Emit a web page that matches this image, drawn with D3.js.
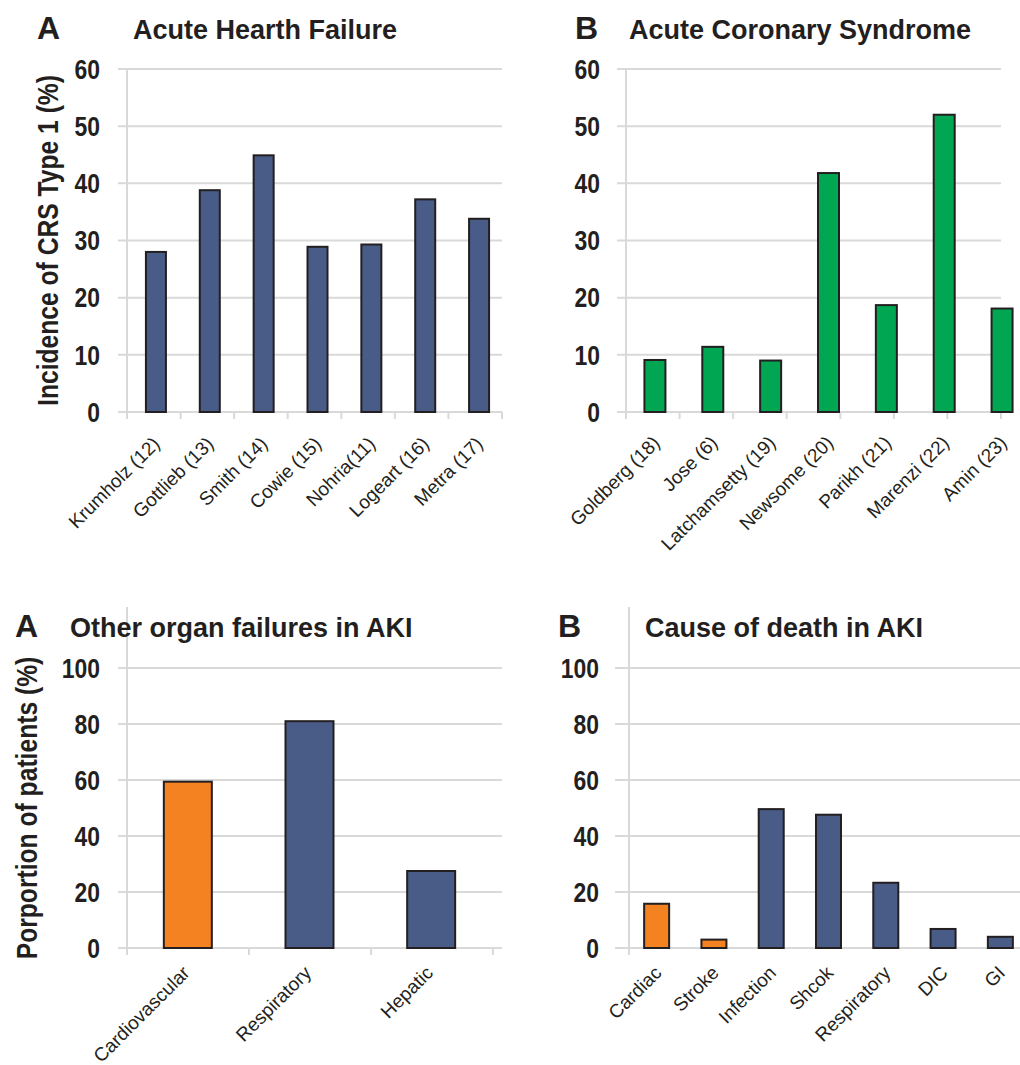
<!DOCTYPE html>
<html>
<head>
<meta charset="utf-8">
<script src="https://cdn.jsdelivr.net/npm/d3@7"></script>
<style>
  body { margin: 0; background: #fff; }
  svg { display: block; }
</style>
</head>
<body>
<main></main>
<script>
/* eslint-disable */

// ---- data ----
const ahfStudies = ['Krumholz (12)', 'Gottlieb (13)', 'Smith (14)', 'Cowie (15)', 'Nohria(11)', 'Logeart (16)', 'Metra (17)'];
const ahfValues = [28.0, 38.8, 44.9, 28.9, 29.3, 37.2, 33.8];

const acsStudies = ['Goldberg (18)', 'Jose (6)', 'Latchamsetty (19)', 'Newsome (20)', 'Parikh (21)', 'Marenzi (22)', 'Amin (23)'];
const acsValues = [9.1, 11.4, 9.0, 41.8, 18.7, 52.0, 18.1];

const organNames = ['Cardiovascular', 'Respiratory', 'Hepatic'];
const organValues = [59.4, 81.0, 27.5];

const deathCauses = ['Cardiac', 'Stroke', 'Infection', 'Shcok', 'Respiratory', 'DIC', 'GI'];
const deathValues = [15.8, 3.0, 49.6, 47.6, 23.3, 6.8, 4.0];

// categories that are cardiac (drawn orange)
const cardiacCategories = ['Cardiovascular', 'Cardiac', 'Stroke'];

const crsTicks = [0, 10, 20, 30, 40, 50, 60];
const pctTicks = [0, 20, 40, 60, 80, 100];

// ---- styles ----
const BLUE = '#485c87';
const GREEN = '#00a651';
const ORANGE = '#f58220';
const INK = '#231f20';
const GRID = '#d9d9d9';
const SANS = '"Liberation Sans", Arial, Helvetica, sans-serif';
// no narrow font installed: squeeze bold sans horizontally instead
const NARROW_SCALE = 0.85;

const svg = d3.select('main')
  .append('svg')
  .attr('width', 1020)
  .attr('height', 1065);

// layout of each panel (pixel frame only, values come from the arrays above)
const panels = [
  {
    letter: 'A', title: 'Acute Hearth Failure', letterX: 37, titleX: 133, titleY: 39,
    cats: ahfStudies, vals: ahfValues, ticks: crsTicks, max: 60,
    axisX: 127, gridX: [118, 502], yRange: [412, 69], axisTop: 69, labelRight: 100,
    tickRange: [127, 502], showTicks: true, barRange: [129, 506], barW: 20,
    lab: [5, 33],
    fill: () => BLUE, ylabel: 'Incidence of CRS Type 1 (%)', ylabelX: 58
  },
  {
    letter: 'B', title: 'Acute Coronary Syndrome', letterX: 575, titleX: 629, titleY: 39,
    cats: acsStudies, vals: acsValues, ticks: crsTicks, max: 60,
    axisX: 626, gridX: [617, 1001], yRange: [412, 69], axisTop: 69, labelRight: 600,
    tickRange: [626, 1001], showTicks: true, barRange: [626, 1031], barW: 21,
    lab: [6, 32],
    fill: () => GREEN
  },
  {
    letter: 'A', title: 'Other organ failures in AKI', letterX: 15, titleX: 70, titleY: 637,
    cats: organNames, vals: organValues, ticks: pctTicks, max: 100,
    axisX: 127, gridX: [118, 502], yRange: [948, 668], axisTop: 607, labelRight: 100,
    tickRange: [127, 493], showTicks: true, barRange: [127, 492], barW: 48,
    lab: [3, 26],
    fill: d => cardiacCategories.includes(d.cat) ? ORANGE : BLUE,
    ylabel: 'Porportion of patients (%)', ylabelX: 37
  },
  {
    letter: 'B', title: 'Cause of death in AKI', letterX: 558, titleX: 645, titleY: 637,
    cats: deathCauses, vals: deathValues, ticks: pctTicks, max: 100,
    axisX: 629, gridX: [615, 1020], yRange: [948, 668], axisTop: 607, labelRight: 599,
    tickRange: [629, 1029], showTicks: false, barRange: [628, 1029], barW: 25,
    lab: [6, 26],
    fill: d => cardiacCategories.includes(d.cat) ? ORANGE : BLUE
  }
];

panels.forEach((p) => {
  const g = svg.append('g').attr('class', 'panel');

  const y = d3.scaleLinear().domain([0, p.max]).range(p.yRange);
  const xTicks = d3.scaleBand().domain(p.cats).range(p.tickRange);
  const xBars = d3.scaleBand().domain(p.cats).range(p.barRange);
  const mid = c => xBars(c) + xBars.bandwidth() / 2;

  // gridlines
  g.append('g')
    .selectAll('line')
    .data(p.ticks)
    .enter()
    .append('line')
    .attr('x1', p.gridX[0])
    .attr('x2', p.gridX[1])
    .attr('y1', d => y(d))
    .attr('y2', d => y(d))
    .attr('stroke', GRID)
    .attr('stroke-width', 2);

  // vertical axis line
  g.append('line')
    .attr('x1', p.axisX).attr('x2', p.axisX)
    .attr('y1', p.axisTop).attr('y2', y(0) + 7)
    .attr('stroke', GRID)
    .attr('stroke-width', 2);

  // category tick marks
  if (p.showTicks) {
    const edges = p.cats.map(c => xTicks(c)).concat([p.tickRange[1]]);
    g.append('g')
      .selectAll('line')
      .data(edges)
      .enter()
      .append('line')
      .attr('x1', d => d).attr('x2', d => d)
      .attr('y1', y(0)).attr('y2', y(0) + 7)
      .attr('stroke', GRID)
      .attr('stroke-width', 2);
  }

  // y tick labels
  g.append('g')
    .selectAll('text')
    .data(p.ticks)
    .enter()
    .append('text')
    .attr('transform', d => `translate(${p.labelRight},${y(d)}) scale(${NARROW_SCALE},1)`)
    .attr('dy', '0.36em')
    .attr('text-anchor', 'end')
    .attr('font-family', SANS)
    .attr('font-weight', 'bold')
    .attr('font-size', 27)
    .attr('fill', INK)
    .text(d => d);

  // bars
  const rows = p.cats.map((c, i) => ({ cat: c, val: p.vals[i] }));
  g.append('g')
    .selectAll('rect')
    .data(rows)
    .enter()
    .append('rect')
    .attr('x', d => mid(d.cat) - p.barW / 2)
    .attr('y', d => y(d.val))
    .attr('width', p.barW)
    .attr('height', d => y(0) - y(d.val))
    .attr('fill', d => p.fill(d))
    .attr('stroke', INK)
    .attr('stroke-width', 2);

  // rotated category labels
  g.append('g')
    .selectAll('text')
    .data(rows)
    .enter()
    .append('text')
    .attr('transform', d => `translate(${mid(d.cat) + p.lab[0]},${y(0) + p.lab[1]}) rotate(-45)`)
    .attr('text-anchor', 'end')
    .attr('font-family', SANS)
    .attr('font-size', 19)
    .attr('fill', INK)
    .text(d => d.cat);

  // panel letter and title
  g.append('text')
    .attr('x', p.letterX)
    .attr('y', p.titleY)
    .attr('font-family', SANS)
    .attr('font-weight', 'bold')
    .attr('font-size', 32)
    .attr('fill', INK)
    .text(p.letter);

  g.append('text')
    .attr('x', p.titleX)
    .attr('y', p.titleY)
    .attr('font-family', SANS)
    .attr('font-weight', 'bold')
    .attr('font-size', 27)
    .attr('fill', INK)
    .text(p.title);

  // y axis title
  if (p.ylabel) {
    g.append('text')
      .attr('transform', `translate(${p.ylabelX},${(p.yRange[0] + p.yRange[1]) / 2}) rotate(-90) scale(${NARROW_SCALE},1)`)
      .attr('text-anchor', 'middle')
      .attr('font-family', SANS)
      .attr('font-weight', 'bold')
      .attr('font-size', 29)
      .attr('fill', INK)
      .text(p.ylabel);
  }
});
</script>
</body>
</html>
